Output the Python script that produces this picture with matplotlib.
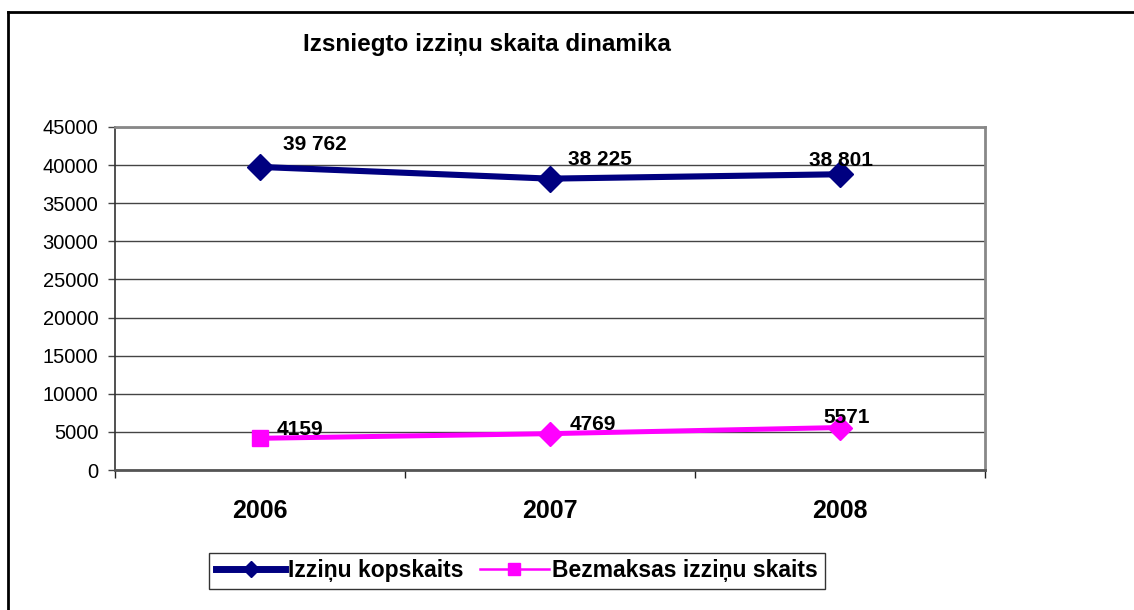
import matplotlib
matplotlib.use("Agg")
import matplotlib.pyplot as plt
from matplotlib.lines import Line2D

plt.rcParams['font.family'] = ['Liberation Sans', 'DejaVu Sans']

title = "Izsniegto izziņu skaita dinamika"
years = ["2006", "2007", "2008"]
total_name = "Izziņu kopskaits"
free_name = "Bezmaksas izziņu skaits"
total = [39762, 38225, 38801]
free = [4159, 4769, 5571]

navy = "#000080"
magenta = "#FF00FF"

W, H = 1134, 610
fig = plt.figure(figsize=(W / 100, H / 100), dpi=100)
ax = fig.add_axes([115 / W, 140 / H, 870 / W, 343 / H])

x = list(range(1, len(years) + 1))

ax.plot(x, total, color=navy, lw=4.4, marker='D', ms=13, zorder=4,
        solid_joinstyle='miter')
ax.plot(x, free, color=magenta, lw=3.6, zorder=4)
ax.plot(x[:1], free[:1], ls='none', marker='s', ms=11, color=magenta, zorder=5)
ax.plot(x[1:], free[1:], ls='none', marker='D', ms=12, color=magenta, zorder=5)

# data labels
tot_off = [(23, 22, 'left'), (18, 19, 'left'), (1, 14, 'center')]
for xi, v, (dx, dy, ha) in zip(x, total, tot_off):
    ax.annotate(f"{v:,}".replace(",", " "), (xi, v), xytext=(dx, dy),
                textcoords='offset pixels', ha=ha, va='center',
                fontsize=15, fontweight='bold', zorder=6)
free_off = [(17, 9, 'left'), (20, 9, 'left'), (7, 10, 'center')]
for xi, v, (dx, dy, ha) in zip(x, free, free_off):
    ax.annotate(f"{v}", (xi, v), xytext=(dx, dy),
                textcoords='offset pixels', ha=ha, va='center',
                fontsize=15, fontweight='bold', zorder=6)

ax.set_xlim(0.5, len(years) + 0.5)
ax.set_ylim(0, 45000)
ax.set_yticks(range(0, 45001, 5000))
ax.set_xticks(x)
ax.set_xticklabels(years, fontsize=18, fontweight='bold')
ax.set_xticks([i + 0.5 for i in range(0, len(years) + 1)], minor=True)
ax.tick_params(axis='x', which='major', length=0, pad=21)
ax.tick_params(axis='x', which='minor', length=6, width=1, color='#222')
ax.tick_params(axis='y', length=5, width=1, color='#444', pad=7,
               labelsize=14.5)

ax.yaxis.grid(True, color='#444', lw=1)
ax.set_axisbelow(True)
ax.spines['left'].set_color('#333')
ax.spines['left'].set_linewidth(1.2)
ax.spines['bottom'].set_color('#555')
ax.spines['bottom'].set_linewidth(2)
ax.spines['right'].set_color('#888')
ax.spines['right'].set_linewidth(2)
ax.spines['top'].set_color('#888')
ax.spines['top'].set_linewidth(2)

fig.text(487 / W, 1 - 44 / H, title, ha='center', va='center',
         fontsize=17.5, fontweight='bold')

handles = [
    Line2D([], [], color=navy, lw=5, marker='D', ms=8),
    Line2D([], [], color=magenta, lw=1.8, marker='s', ms=9),
]
leg = fig.legend(handles, [total_name, free_name], loc='center',
                 bbox_to_anchor=(517 / W, 1 - 571 / H), ncol=2,
                 frameon=True, fancybox=False, edgecolor='black',
                 prop={'size': 16.5, 'weight': 'bold'},
                 handlelength=3.0, handletextpad=0.15, columnspacing=0.7,
                 borderpad=0.3, borderaxespad=0)
leg.get_frame().set_linewidth(1)

# figure border (top and left only)
fig.add_artist(Line2D([8 / W, 8 / W], [0, 1 - 12 / H], color='black', lw=2,
                      transform=fig.transFigure))
fig.add_artist(Line2D([8 / W, 1], [1 - 12 / H, 1 - 12 / H], color='black',
                      lw=2, transform=fig.transFigure))

fig.savefig("out.png", dpi=100)
